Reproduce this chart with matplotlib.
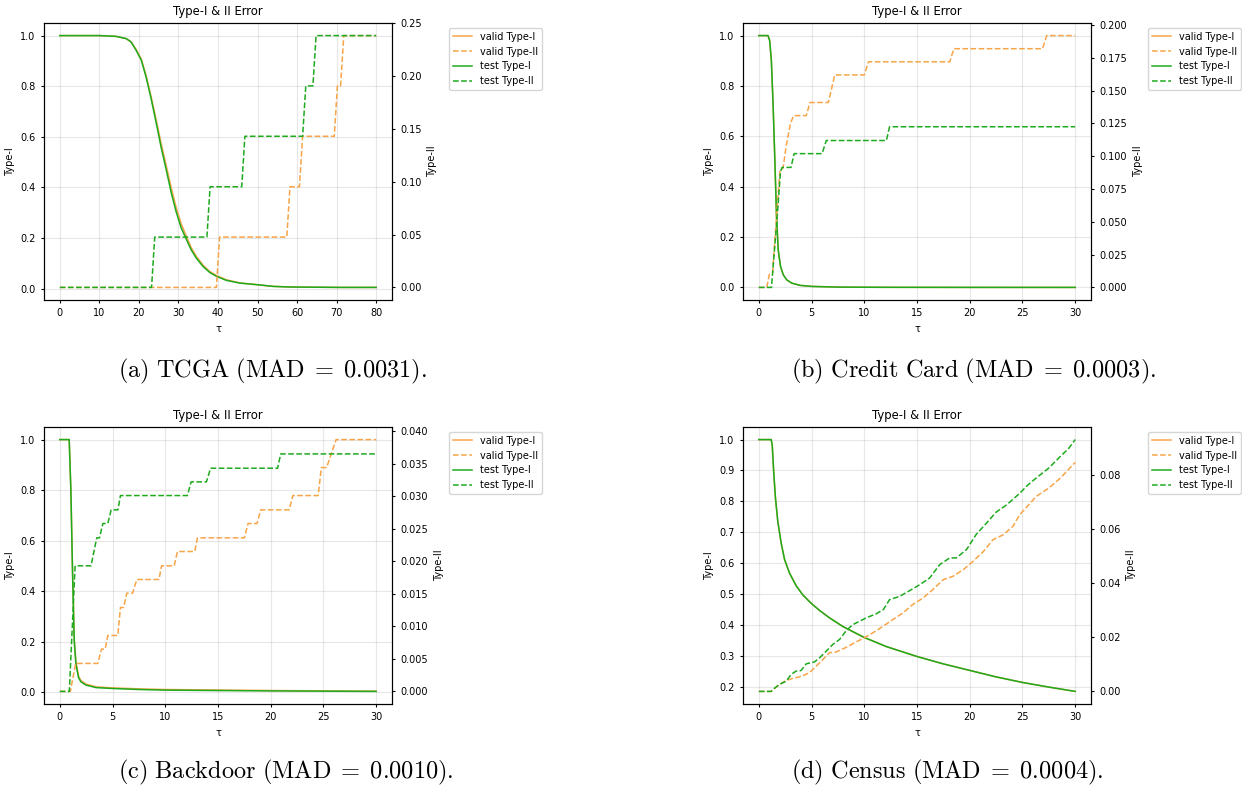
import matplotlib
matplotlib.use("Agg")
import matplotlib.pyplot as plt

plt.rcParams["font.size"] = 7
plt.rcParams["mathtext.fontset"] = "cm"
plt.rcParams["xtick.major.size"] = 2.5
plt.rcParams["ytick.major.size"] = 2.5

ORANGE = "#f7a548"
GREEN = "#1eaa1e"

# (a) TCGA
tcga_tau_I = [0, 10, 14.2, 16.8, 18, 19.3, 20.6, 21.8, 23.1, 24.4, 25.6, 26.9, 28.2, 29.4,
              30.7, 32, 33.2, 34.5, 36.2, 37.9, 39.6, 42.1, 45.5, 49.7, 54, 58.2, 70.9, 80]
tcga_test_I = [1.0, 1.0, 0.997, 0.988, 0.975, 0.942, 0.903, 0.837, 0.75, 0.653, 0.56, 0.47, 0.378,
               0.305, 0.24, 0.195, 0.154, 0.121, 0.088, 0.064, 0.049, 0.033, 0.022, 0.016, 0.009,
               0.0066, 0.005, 0.005]
tcga_valid_I = [1.0, 1.0, 0.997, 0.988, 0.976, 0.945, 0.907, 0.843, 0.758, 0.665, 0.575, 0.487,
                0.397, 0.322, 0.256, 0.207, 0.163, 0.128, 0.093, 0.068, 0.052, 0.035, 0.023, 0.016,
                0.009, 0.0066, 0.005, 0.005]
tcga_tau_test_II = [0, 23.2, 24.0, 37.2, 38.0, 46.0, 46.8, 61.4, 62.2, 64.0, 64.8, 80]
tcga_test_II = [0, 0, 0.0476, 0.0476, 0.0952, 0.0952, 0.1429, 0.1429, 0.1905, 0.1905, 0.2381, 0.2381]
tcga_tau_valid_II = [0, 39.6, 40.4, 57.4, 58.2, 60.6, 61.4, 69.4, 70.2, 71.0, 71.8, 80]
tcga_valid_II = [0, 0, 0.0476, 0.0476, 0.0952, 0.0952, 0.1429, 0.1429, 0.1905, 0.1905, 0.2381, 0.2381]

# (b) Credit Card
cc_tau_I = [0, 0.87, 1.03, 1.19, 1.35, 1.52, 1.68, 1.84, 2.06, 2.32, 2.65, 3.13, 3.94, 5.06,
            7.5, 12, 20, 30]
cc_test_I = [1.0, 1.0, 0.98, 0.90, 0.73, 0.506, 0.28, 0.149, 0.083, 0.05, 0.03, 0.017, 0.008,
             0.004, 0.0013, 0.0005, 0.0002, 0.0001]
cc_valid_I = [1.0, 1.0, 0.98, 0.90, 0.73, 0.506, 0.28, 0.149, 0.083, 0.05, 0.03, 0.017, 0.008,
              0.004, 0.0013, 0.0005, 0.0002, 0.0001]
cc_tau_test_II = [0, 1.2, 1.5, 1.8, 2.05, 2.2, 3.05, 3.35, 6.0, 6.4, 12.1, 12.4, 30]
cc_test_II = [0, 0, 0.03, 0.06, 0.088, 0.0915, 0.0915, 0.102, 0.102, 0.112, 0.112, 0.1225, 0.1225]
cc_tau_valid_II = [0, 0.75, 1.0, 1.3, 1.6, 2.0, 2.3, 2.6, 3.0, 3.3, 4.5, 4.85, 6.6, 7.2, 10.0,
                   10.4, 18.1, 18.5, 26.9, 27.3, 30]
cc_valid_II = [0, 0, 0.010, 0.011, 0.045, 0.089, 0.091, 0.108, 0.125, 0.131, 0.131, 0.141, 0.141,
               0.162, 0.162, 0.172, 0.172, 0.182, 0.182, 0.192, 0.192]

# (c) Backdoor
bd_tau_I = [0, 0.89, 1.05, 1.21, 1.37, 1.53, 1.78, 2.0, 2.48, 3.44, 5, 7.6, 10, 15, 20, 25, 30]
bd_test_I = [1.0, 1.0, 0.795, 0.465, 0.20, 0.11, 0.057, 0.041, 0.028, 0.018, 0.0145, 0.0105,
             0.008, 0.0065, 0.005, 0.004, 0.003]
bd_valid_I = [1.0, 1.0, 0.80, 0.475, 0.21, 0.12, 0.063, 0.046, 0.032, 0.021, 0.017, 0.013,
              0.0105, 0.0085, 0.0065, 0.005, 0.004]
bd_tau_test_II = [0, 0.9, 1.45, 2.96, 3.5, 3.76, 4.08, 4.55, 4.87, 5.51, 5.75, 12.1, 12.45, 13.9,
                  14.3, 20.65, 20.95, 30]
bd_test_II = [0, 0, 0.0193, 0.0193, 0.0236, 0.0236, 0.0258, 0.0258, 0.0279, 0.0279, 0.0301,
              0.0301, 0.0322, 0.0322, 0.0343, 0.0343, 0.0365, 0.0365]
bd_tau_valid_II = [0, 1.0, 1.5, 3.6, 3.95, 4.3, 4.55, 5.5, 5.75, 6.05, 6.35, 6.9, 7.3, 9.4, 9.65,
                   10.85, 11.15, 12.8, 13.05, 17.5, 17.85, 18.7, 19.05, 21.75, 22.1, 24.5, 24.8,
                   25.3, 26.2, 30]
bd_valid_II = [0, 0, 0.0043, 0.0043, 0.0065, 0.0065, 0.0086, 0.0086, 0.0129, 0.0129, 0.0151,
               0.0151, 0.0172, 0.0172, 0.0193, 0.0193, 0.0215, 0.0215, 0.0236, 0.0236, 0.0258,
               0.0258, 0.0279, 0.0279, 0.0301, 0.0301, 0.0344, 0.0344, 0.0387, 0.0387]

# (d) Census
cen_tau_I = [0, 1.17, 1.27, 1.42, 1.58, 1.8, 2.12, 2.44, 2.91, 3.54, 4.18, 4.97, 5.76, 6.71, 7.97,
             9.97, 12.1, 15, 17.5, 20, 22.5, 25, 27.5, 30]
cen_test_I = [1.0, 1.0, 0.983, 0.89, 0.81, 0.735, 0.665, 0.612, 0.568, 0.527, 0.497, 0.47, 0.447,
              0.423, 0.395, 0.36, 0.33, 0.298, 0.274, 0.253, 0.232, 0.214, 0.199, 0.185]
cen_valid_I = [1.0, 1.0, 0.983, 0.89, 0.81, 0.735, 0.665, 0.612, 0.568, 0.527, 0.497, 0.47, 0.447,
               0.423, 0.395, 0.36, 0.33, 0.298, 0.274, 0.253, 0.232, 0.214, 0.199, 0.185]
cen_tau_test_II = [0, 1.17, 1.49, 1.96, 2.6, 3.07, 3.54, 4.0, 4.5, 5.28, 5.76, 6.4, 7.0, 7.66, 8.3,
                   8.92, 9.56, 10.2, 11.1, 11.8, 12.4, 13.35, 14.3, 15.25, 16.2, 17.15, 18.1,
                   18.73, 19.7, 20.6, 21.6, 22.5, 23.5, 24.75, 25.5, 26.3, 27.5, 28.6, 29.4, 30]
cen_test_II = [0, 0, 0.0012, 0.0026, 0.0038, 0.0063, 0.0075, 0.0077, 0.0102, 0.0109, 0.0124,
               0.0149, 0.0173, 0.0192, 0.0225, 0.0247, 0.0259, 0.0272, 0.0286, 0.0302, 0.0339,
               0.0351, 0.0372, 0.0394, 0.0419, 0.0468, 0.0493, 0.0493, 0.0524, 0.0579, 0.0622,
               0.0662, 0.0689, 0.0732, 0.0762, 0.0788, 0.0825, 0.0868, 0.0898, 0.0930]
cen_tau_valid_II = [0, 1.17, 1.96, 2.6, 3.2, 4.0, 4.8, 5.44, 6.08, 6.7, 7.3, 8.3, 9.24, 10, 10.8,
                    11.8, 12.7, 13.67, 14.6, 15.57, 16.5, 17.5, 18.4, 19.4, 20.3, 21.3, 22.2, 23.2,
                    24.1, 24.75, 25.5, 26.3, 27.5, 28.6, 30]
cen_valid_II = [0, 0, 0.0026, 0.004, 0.0048, 0.0055, 0.0069, 0.0093, 0.0118, 0.0143, 0.0145,
                0.0163, 0.0183, 0.0198, 0.0216, 0.0241, 0.0265, 0.029, 0.0321, 0.0345, 0.0376,
                0.0413, 0.0425, 0.045, 0.048, 0.0517, 0.056, 0.0579, 0.061, 0.0653, 0.0685,
                0.072, 0.0751, 0.0788, 0.0846]

panels = [
    (tcga_tau_I, tcga_valid_I, tcga_test_I, tcga_tau_valid_II, tcga_valid_II, tcga_tau_test_II,
     tcga_test_II, r"$\mathrm{(a)\ TCGA\ (MAD\;=\;0.0031).}$"),
    (cc_tau_I, cc_valid_I, cc_test_I, cc_tau_valid_II, cc_valid_II, cc_tau_test_II, cc_test_II,
     r"$\mathrm{(b)\ Credit\ Card\ (MAD\;=\;0.0003).}$"),
    (bd_tau_I, bd_valid_I, bd_test_I, bd_tau_valid_II, bd_valid_II, bd_tau_test_II, bd_test_II,
     r"$\mathrm{(c)\ Backdoor\ (MAD\;=\;0.0010).}$"),
    (cen_tau_I, cen_valid_I, cen_test_I, cen_tau_valid_II, cen_valid_II, cen_tau_test_II,
     cen_test_II, r"$\mathrm{(d)\ Census\ (MAD\;=\;0.0004).}$"),
]

W, H = 1242, 786
fig = plt.figure(figsize=(W / 100, H / 100), dpi=100)

# axes boxes in pixels: left, top
boxes = [(44, 23), (743, 23), (44, 427), (743, 427)]
caption_pos = [(118, 371), (791, 371), (118, 772), (791, 772)]
aw, ah = 348, 277

for (tau_I, valid_I, test_I, tau_vII, valid_II, tau_tII, test_II, cap), (l, t), (cx, cy) in zip(
        panels, boxes, caption_pos):
    ax1 = fig.add_axes([l / W, 1 - (t + ah) / H, aw / W, ah / H])
    ax2 = ax1.twinx()

    l1, = ax1.plot(tau_I, valid_I, color=ORANGE, lw=1.1, label="valid Type-I")
    l3, = ax1.plot(tau_I, test_I, color=GREEN, lw=1.1, label="test Type-I")
    l2, = ax2.plot(tau_vII, valid_II, color=ORANGE, lw=1.1, ls="--", label="valid Type-II")
    l4, = ax2.plot(tau_tII, test_II, color=GREEN, lw=1.1, ls="--", label="test Type-II")

    ax1.set_xlabel("τ")
    ax1.set_ylabel("Type-I")
    ax2.set_ylabel("Type-II")
    ax1.set_title("Type-I & II Error")
    ax1.grid(True, alpha=0.3)

    ax1.legend(handles=[l1, l2, l3, l4], loc="upper left", bbox_to_anchor=(1.15, 1.0))

    fig.text(cx / W, 1 - cy / H, cap, ha="left", va="center", fontsize=17.5)

fig.savefig("out.png", dpi=100)
